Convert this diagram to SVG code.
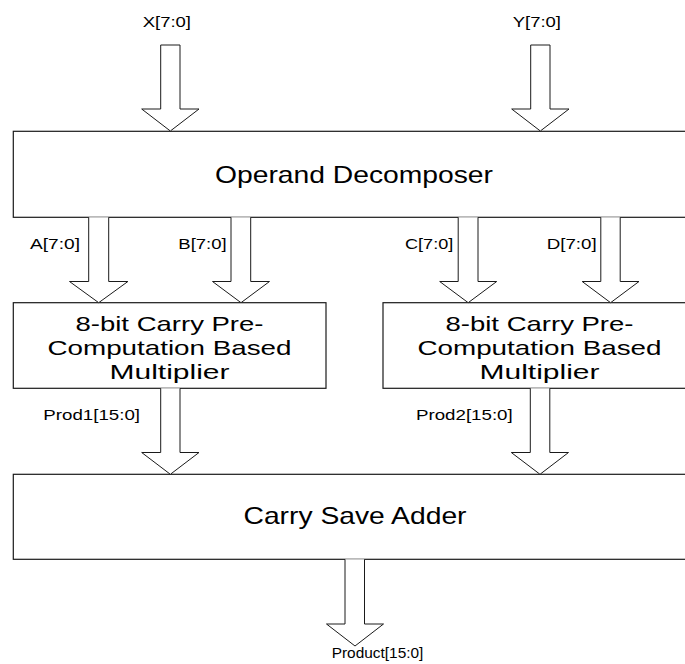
<svg xmlns="http://www.w3.org/2000/svg" width="685" height="664" viewBox="0 0 685 664">
  <style>
    .box { fill: #ffffff; stroke: #1a1a1a; stroke-width: 1.2; }
    .arrow { fill: #ffffff; stroke: #1a1a1a; stroke-width: 1; stroke-linejoin: miter; }
    .big { font-family: "Liberation Sans", Arial, sans-serif; font-size: 24px; fill: #000; text-anchor: middle; }
    .mul { font-family: "Liberation Sans", Arial, sans-serif; font-size: 21px; fill: #000; text-anchor: middle; }
    .lbl { font-family: "Liberation Sans", Arial, sans-serif; font-size: 15px; fill: #000; }
  </style>
  <rect width="685" height="664" fill="#ffffff"/>

  <g id="operand-decomposer">
    <rect class="box" x="13.3" y="131.3" width="684" height="86"/>
    <text class="big" x="354" y="182.5" textLength="278" lengthAdjust="spacingAndGlyphs">Operand Decomposer</text>
  </g>

  <g id="multiplier-1">
    <rect class="box" x="13.3" y="302.7" width="312.7" height="85.6"/>
    <text class="mul" x="169.5" y="331" textLength="188" lengthAdjust="spacingAndGlyphs">8-bit Carry Pre-</text>
    <text class="mul" x="169.5" y="355.2" textLength="244" lengthAdjust="spacingAndGlyphs">Computation Based</text>
    <text class="mul" x="169.5" y="379.4" textLength="120" lengthAdjust="spacingAndGlyphs">Multiplier</text>
  </g>

  <g id="multiplier-2">
    <rect class="box" x="383" y="302.7" width="312.7" height="85.6"/>
    <text class="mul" x="539.5" y="331" textLength="188" lengthAdjust="spacingAndGlyphs">8-bit Carry Pre-</text>
    <text class="mul" x="539.5" y="355.2" textLength="244" lengthAdjust="spacingAndGlyphs">Computation Based</text>
    <text class="mul" x="539.5" y="379.4" textLength="120" lengthAdjust="spacingAndGlyphs">Multiplier</text>
  </g>

  <g id="carry-save-adder">
    <rect class="box" x="13.3" y="474.3" width="684" height="85"/>
    <text class="big" x="355" y="524.3" textLength="223" lengthAdjust="spacingAndGlyphs">Carry Save Adder</text>
  </g>

  <g id="connectors">
    <path class="arrow" d="M160.7,45 H180 V109 H199 L170.35,131 L141.7,109 H160.7 Z"/>
    <path class="arrow" d="M530.7,45 H550 V109 H569 L540.35,131 L511.7,109 H530.7 Z"/>
    <path class="arrow" d="M88.7,217.3 V281.5 H69.5 L98.7,302.7 L127.9,281.5 H108.7 V217.3"/>
    <path class="arrow" d="M231,217.3 V281.5 H212.5 L241,302.7 L269.5,281.5 H250.7 V217.3"/>
    <path class="arrow" d="M458.2,217.3 V281.5 H439.7 L468.2,302.7 L496.7,281.5 H478 V217.3"/>
    <path class="arrow" d="M600.8,217.3 V281.5 H582.2 L610.6,302.7 L639,281.5 H620.2 V217.3"/>
    <path class="arrow" d="M160.7,388.3 V452.5 H141.7 L170.35,474.3 L199,452.5 H180 V388.3"/>
    <path class="arrow" d="M530.3,388.3 V452.5 H511.3 L540,474.3 L568.5,452.5 H549.8 V388.3"/>
    <path class="arrow" d="M345,559.3 V624 H326.5 L355,646 L383.5,624 H364.5 V559.3"/>
  </g>

  <g id="labels">
    <text class="lbl" x="142.7" y="26.7" textLength="48.3" lengthAdjust="spacingAndGlyphs">X[7:0]</text>
    <text class="lbl" x="512.7" y="26.7" textLength="48.3" lengthAdjust="spacingAndGlyphs">Y[7:0]</text>
    <text class="lbl" x="30" y="248.5" textLength="50" lengthAdjust="spacingAndGlyphs">A[7:0]</text>
    <text class="lbl" x="178.3" y="248.5" textLength="48.4" lengthAdjust="spacingAndGlyphs">B[7:0]</text>
    <text class="lbl" x="405" y="249" textLength="48.3" lengthAdjust="spacingAndGlyphs">C[7:0]</text>
    <text class="lbl" x="546.7" y="249" textLength="50" lengthAdjust="spacingAndGlyphs">D[7:0]</text>
    <text class="lbl" x="43.3" y="420" textLength="96.7" lengthAdjust="spacingAndGlyphs">Prod1[15:0]</text>
    <text class="lbl" x="416" y="420" textLength="96.7" lengthAdjust="spacingAndGlyphs">Prod2[15:0]</text>
    <text class="lbl" x="331.7" y="658.3" textLength="91.7" lengthAdjust="spacingAndGlyphs">Product[15:0]</text>
  </g>
</svg>
